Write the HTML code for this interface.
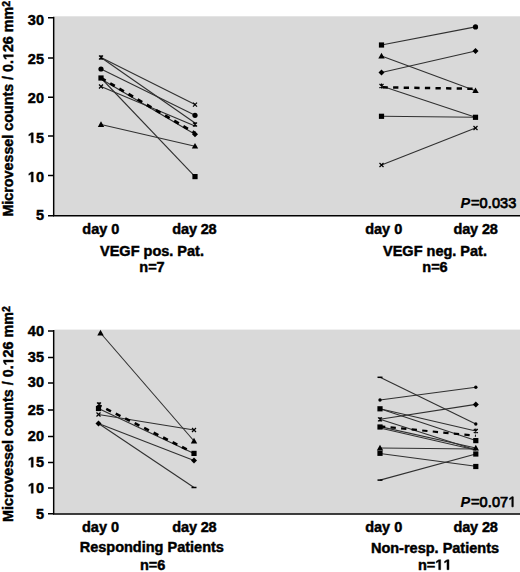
<!DOCTYPE html>
<html><head><meta charset="utf-8"><style>
html,body{margin:0;padding:0;background:#fff;width:520px;height:572px;overflow:hidden}
svg{display:block}
text{font-family:"Liberation Sans",sans-serif;font-weight:bold;font-size:14.5px;fill:#000;stroke:#000;stroke-width:0.45px}
.r{stroke-width:0.75px}
.it{font-style:italic;stroke-width:0.15px}
.r{font-weight:normal}
.h{fill:none;stroke:none}
</style></head><body>
<svg width="520" height="572" viewBox="0 0 520 572">
<defs>
<g id="sq"><rect x="-2.6" y="-2.6" width="5.2" height="5.2" fill="#000"/></g>
<g id="ci"><circle r="2.6" fill="#000"/></g>
<g id="dt"><circle r="1.7" fill="#000"/></g>
<g id="di"><path d="M0 -3 L3 0 L0 3 L-3 0Z" fill="#000"/></g>
<g id="tr"><path d="M0 -3.2 L3.2 2.4 L-3.2 2.4Z" fill="#000"/></g>
<g id="xx"><path d="M-2 -2 L2 2 M2 -2 L-2 2" stroke="#000" stroke-width="1.2"/></g>
<g id="as"><path d="M-2 -2 L2 2 M2 -2 L-2 2 M0 -2.4 L0 2.4" stroke="#000" stroke-width="1.1"/></g>
<g id="da"><path d="M-2.5 0 L2.5 0" stroke="#000" stroke-width="1.5"/></g>
</defs>

<!-- ===== TOP PANEL ===== -->
<rect x="54.5" y="16.3" width="466" height="199" fill="#d9d9d9"/>
<g stroke="#000" stroke-width="1.5" fill="none">
<path d="M53.7 16.8 V216.5 M53 215.8 H520"/>
<path d="M48 17.8 H54 M48 58 H54 M48 97.3 H54 M48 136 H54 M48 175.5 H54 M48 215.7 H54"/>
</g>
<g text-anchor="end">
<text x="44" y="24.6">30</text>
<text x="44" y="64.2">25</text>
<text x="44" y="103.1">20</text>
<text x="44" y="142.8"><tspan class="h">1</tspan>5</text>
<text x="44" y="182"><tspan class="h">1</tspan>0</text>
<text x="44" y="219.6">5</text>
</g>
<text transform="translate(13.3,216.6) rotate(-90)" style="font-size:14.3px">Microvessel counts / 0.<tspan class="h">1</tspan>26 mm<tspan style="font-size:10.5px" dy="-3.8" dx="0">2</tspan></text>

<!-- series top-left -->
<g stroke="#303030" stroke-width="1.1" fill="none">
<path d="M101 57.5 L195 104.6"/>
<path d="M101 57.5 L195 123"/>
<path d="M101 69 L195 115.3"/>
<path d="M101 78 L195 176.6"/>
<path d="M101 79 L195 134.3"/>
<path d="M101 86.5 L195 126"/>
<path d="M101 124.5 L195 146.2"/>
</g>
<path d="M101 78 L195 133" stroke="#000" stroke-width="2.8" stroke-dasharray="5.3 5.3" fill="none"/>
<use href="#as" x="101" y="57.5"/><use href="#ci" x="101" y="69"/><use href="#sq" x="101" y="78"/>
<use href="#xx" x="101" y="86.5"/><use href="#tr" x="101" y="124.5"/>
<use href="#xx" x="195" y="104.6"/><use href="#ci" x="195" y="115.3"/><use href="#as" x="195" y="124.5"/>
<use href="#di" x="195" y="134.3"/><use href="#tr" x="195" y="146.2"/><use href="#sq" x="195" y="176.6"/>

<!-- series top-right -->
<g stroke="#303030" stroke-width="1.1" fill="none">
<path d="M381.5 45 L475.5 26.9"/>
<path d="M381.5 56 L475.5 90.7"/>
<path d="M381.5 72.5 L475.5 51"/>
<path d="M381.5 86 L475.5 117.3"/>
<path d="M381.5 116.3 L475.5 117.3"/>
<path d="M381.5 165 L475.5 128"/>
</g>
<path d="M381.5 87.3 L475.5 88.8" stroke="#000" stroke-width="2.5" stroke-dasharray="5.3 5.3" stroke-dashoffset="-1" fill="none"/>
<use href="#sq" x="381.5" y="45"/><use href="#tr" x="381.5" y="56"/><use href="#di" x="381.5" y="72.5"/>
<use href="#as" x="381.5" y="86"/><use href="#sq" x="381.5" y="116.3"/><use href="#xx" x="381.5" y="165"/>
<use href="#ci" x="475.5" y="26.9"/><use href="#di" x="475.5" y="51"/><use href="#tr" x="475.5" y="90.7"/>
<use href="#sq" x="475.5" y="117.3"/><use href="#xx" x="475.5" y="128"/>

<text x="460.5" y="208.2"><tspan class="it">P</tspan><tspan class="r" dx="0.8" style="letter-spacing:0.12px">=0.033</tspan></text>

<text x="82.3" y="233.7">day 0</text>
<text x="172.3" y="233.7" textLength="44.4" lengthAdjust="spacing">day 28</text>
<text x="365.2" y="233.7">day 0</text>
<text x="453.5" y="233.7" textLength="44.4" lengthAdjust="spacing">day 28</text>
<text x="152" y="256" text-anchor="middle">VEGF pos. Pat.</text>
<text x="152" y="272" text-anchor="middle">n=7</text>
<text x="435" y="256" text-anchor="middle">VEGF neg. Pat.</text>
<text x="435" y="272" text-anchor="middle">n=6</text>

<!-- ===== BOTTOM PANEL ===== -->
<rect x="54.5" y="329.6" width="466" height="184" fill="#d9d9d9"/>
<g stroke="#000" stroke-width="1.5" fill="none">
<path d="M53.7 330.1 V514.8 M53 514.1 H520"/>
<path d="M48 330.9 H54 M48 357.6 H54 M48 383 H54 M48 410.1 H54 M48 436.4 H54 M48 462.4 H54 M48 488.1 H54 M48 513.8 H54"/>
</g>
<g text-anchor="end">
<text x="44" y="336">40</text>
<text x="44" y="361.9">35</text>
<text x="44" y="387">30</text>
<text x="44" y="414.8">25</text>
<text x="44" y="441">20</text>
<text x="44" y="467.2"><tspan class="h">1</tspan>5</text>
<text x="44" y="493.3"><tspan class="h">1</tspan>0</text>
<text x="44" y="518.8">5</text>
</g>
<text transform="translate(13.3,521.9) rotate(-90)" style="font-size:14.3px">Microvessel counts / 0.<tspan class="h">1</tspan>26 mm<tspan style="font-size:10.5px" dy="-3.8" dx="0">2</tspan></text>

<!-- series bottom-left -->
<g stroke="#303030" stroke-width="1.1" fill="none">
<path d="M100.5 333 L194 441"/>
<path d="M98.5 408.5 L194 453.4"/>
<path d="M98.5 414.5 L194 430"/>
<path d="M98.5 423.5 L194 460.5"/>
<path d="M98.5 423.5 L194 487.5"/>
</g>
<path d="M99 405.3 L191 451.5" stroke="#000" stroke-width="2.6" stroke-dasharray="5.3 5.3" stroke-dashoffset="2.5" fill="none"/>
<use href="#tr" x="100.5" y="333"/><use href="#as" x="99" y="404.5"/><use href="#sq" x="98.5" y="408.5"/>
<use href="#xx" x="98.5" y="414.5"/><use href="#di" x="98.5" y="423.5"/>
<use href="#xx" x="194" y="430"/><use href="#tr" x="194" y="441"/><use href="#sq" x="194" y="453.4"/>
<use href="#di" x="194" y="460.5"/><use href="#da" x="194" y="487.5"/>

<!-- series bottom-right -->
<g stroke="#303030" stroke-width="1.1" fill="none">
<path d="M380 377.3 L475.8 424"/>
<path d="M380 400 L475.8 387.2"/>
<path d="M380 408.8 L475.8 431"/>
<path d="M380 408.8 L475.8 440.6"/>
<path d="M380 419.3 L475.8 404.4"/>
<path d="M380 419.3 L475.8 450"/>
<path d="M380 426.6 L475.8 448"/>
<path d="M380 428 L475.8 450"/>
<path d="M380 448 L475.8 449"/>
<path d="M380 453.5 L475.8 466.3"/>
<path d="M380 480.1 L475.8 454"/>
</g>
<path d="M380 426.3 L475.8 435.8" stroke="#000" stroke-width="2.2" stroke-dasharray="5.3 5.3" fill="none"/>
<use href="#da" x="380" y="377.3"/><use href="#dt" x="380" y="400"/><use href="#sq" x="380" y="408.8"/>
<use href="#as" x="380" y="419.3"/><use href="#sq" x="380" y="427"/><use href="#tr" x="380" y="448"/>
<use href="#sq" x="380" y="453.3"/><use href="#da" x="380" y="480.1"/>
<use href="#dt" x="475.8" y="387.2"/><use href="#di" x="475.8" y="404.4"/><use href="#dt" x="475.8" y="424"/>
<use href="#as" x="475.8" y="431"/><use href="#sq" x="475.8" y="440.6"/><use href="#tr" x="475.8" y="448"/>
<use href="#sq" x="475.8" y="454"/><use href="#sq" x="475.8" y="466.5"/>

<text x="460.5" y="506.8"><tspan class="it">P</tspan><tspan class="r" dx="0.8" style="letter-spacing:0.12px">=0.07<tspan class="h">1</tspan></tspan></text>

<text x="82" y="532.2">day 0</text>
<text x="172.3" y="532.2" textLength="44.4" lengthAdjust="spacing">day 28</text>
<text x="365.2" y="532.2">day 0</text>
<text x="453.5" y="532.2" textLength="44.4" lengthAdjust="spacing">day 28</text>
<text x="151.8" y="552.4" text-anchor="middle">Responding Patients</text>
<text x="152.6" y="569.6" text-anchor="middle">n=6</text>
<text x="435" y="552.7" text-anchor="middle">Non-resp. Patients</text>
<text x="434.3" y="569.7" text-anchor="middle">n=<tspan class="h">11</tspan></text>
<!-- arial-style 1 glyphs -->
<path transform="translate(27.844,142.800) scale(0.007080,-0.007080)" d="M478 0L478 1170L140 959L140 1180L493 1409L759 1409L759 0Z" fill="#000" stroke="#000" stroke-width="63.6"/>
<path transform="translate(27.844,182.000) scale(0.007080,-0.007080)" d="M478 0L478 1170L140 959L140 1180L493 1409L759 1409L759 0Z" fill="#000" stroke="#000" stroke-width="63.6"/>
<path transform="translate(27.844,467.200) scale(0.007080,-0.007080)" d="M478 0L478 1170L140 959L140 1180L493 1409L759 1409L759 0Z" fill="#000" stroke="#000" stroke-width="63.6"/>
<path transform="translate(27.844,493.300) scale(0.007080,-0.007080)" d="M478 0L478 1170L140 959L140 1180L493 1409L759 1409L759 0Z" fill="#000" stroke="#000" stroke-width="63.6"/>
<path transform="translate(13.3,216.6) rotate(-90) translate(156.547,0.000) scale(0.006982,-0.006982)" d="M478 0L478 1170L140 959L140 1180L493 1409L759 1409L759 0Z" fill="#000" stroke="#000" stroke-width="64.4"/>
<path transform="translate(13.3,521.9) rotate(-90) translate(156.547,0.000) scale(0.006982,-0.006982)" d="M478 0L478 1170L140 959L140 1180L493 1409L759 1409L759 0Z" fill="#000" stroke="#000" stroke-width="64.4"/>
<path transform="translate(508.269,506.800) scale(0.007080,-0.007080)" d="M515 0L515 1237L197 1010L197 1180L530 1409L696 1409L696 0Z" fill="#000" stroke="#000" stroke-width="105.9"/>
<path transform="translate(435.292,569.700) scale(0.007080,-0.007080)" d="M478 0L478 1170L140 959L140 1180L493 1409L759 1409L759 0Z" fill="#000" stroke="#000" stroke-width="63.6"/>
<path transform="translate(443.600,569.700) scale(0.007080,-0.007080)" d="M478 0L478 1170L140 959L140 1180L493 1409L759 1409L759 0Z" fill="#000" stroke="#000" stroke-width="63.6"/>
</svg>
</body></html>
